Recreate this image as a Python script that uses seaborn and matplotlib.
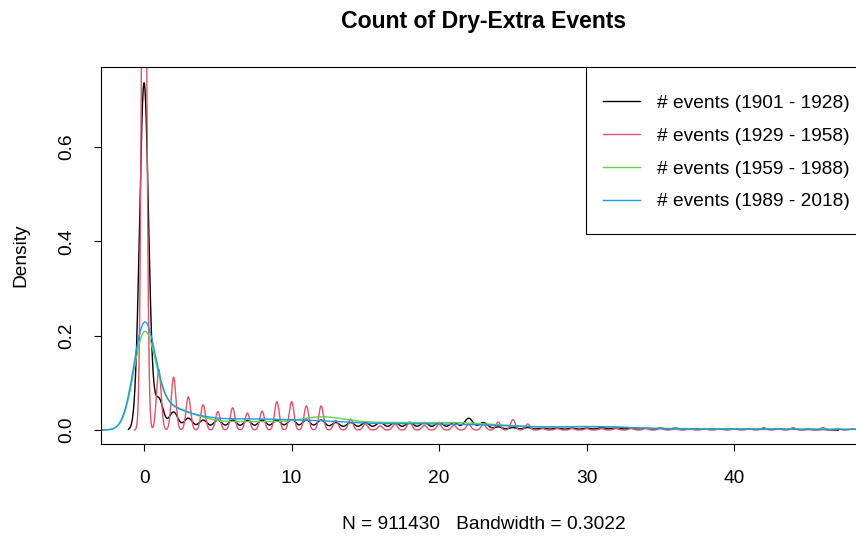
import numpy as np
import pandas as pd
import seaborn as sns
import matplotlib.pyplot as plt
from matplotlib.patches import Rectangle

# share of cells with k dry-extra events (index = k), one list per period
share_1901_1928 = [0.56, 0.05, 0.029, 0.019, 0.016, 0.016, 0.016, 0.015, 0.016, 0.016,
                   0.017, 0.016, 0.016, 0.012, 0.012, 0.012, 0.012, 0.012, 0.012, 0.012,
                   0.012, 0.012, 0.019, 0.012, 0.005, 0.004, 0.004, 0.003, 0.003, 0.003,
                   0.003, 0.004, 0.004, 0.003, 0.003, 0.003, 0.003, 0.002, 0.002, 0.002,
                   0.002, 0.002, 0.002, 0.002, 0.002, 0.001, 0.001]
share_1929_1958 = [0.59, 0.05, 0.044, 0.0276, 0.021, 0.0154, 0.0185, 0.0142, 0.0157, 0.0236,
                   0.0236, 0.020, 0.020, 0.008, 0.009, 0.005, 0.0035, 0.005, 0.0067, 0.004,
                   0.005, 0.004, 0.0047, 0.0047, 0.0067, 0.0087, 0.005, 0.0012, 0.0012, 0.0012,
                   0.0012, 0.0012, 0.0012, 0.0012, 0.0012, 0.0012, 0.0012, 0.0012, 0.0012, 0.0012,
                   0.0012, 0.0012, 0.002, 0.0012, 0.002, 0.0012, 0.002, 0.0012, 0.0012, 0.0012,
                   0.0012]
share_1959_1988 = [0.375, 0.06, 0.055, 0.04, 0.028, 0.02, 0.019, 0.019, 0.019, 0.019,
                   0.02, 0.027, 0.032, 0.028, 0.022, 0.018, 0.017, 0.017, 0.017, 0.017,
                   0.017, 0.017, 0.016, 0.014, 0.012, 0.010, 0.008, 0.007, 0.007, 0.008,
                   0.008, 0.008, 0.007, 0.005, 0.004, 0.004, 0.003, 0.003, 0.003, 0.003,
                   0.002, 0.002, 0.002, 0.002, 0.002, 0.002, 0.002, 0.002, 0.002, 0.002,
                   0.002, 0.001, 0.001, 0.001, 0.001, 0.001]
share_1989_2018 = [0.43, 0.06, 0.055, 0.04, 0.032, 0.027, 0.026, 0.026, 0.026, 0.025,
                   0.024, 0.023, 0.022, 0.02, 0.018, 0.016, 0.015, 0.015, 0.015, 0.015,
                   0.014, 0.014, 0.013, 0.012, 0.011, 0.009, 0.008, 0.007, 0.007, 0.008,
                   0.008, 0.008, 0.007, 0.006, 0.004, 0.003, 0.003, 0.003, 0.002, 0.002,
                   0.002, 0.0015, 0.0015, 0.0015, 0.0015, 0.0015, 0.0015, 0.0015, 0.0015, 0.0015,
                   0.0015, 0.001, 0.001, 0.001, 0.001, 0.001]

labels = ["# events (1901 - 1928)", "# events (1929 - 1958)",
          "# events (1959 - 1988)", "# events (1989 - 2018)"]
shares = [share_1901_1928, share_1929_1958, share_1959_1988, share_1989_2018]
bandwidths = [0.3022, 0.157, 0.72, 0.72]
colors = ["black", "#DF536B", "#61D04F", "#2297E6"]

plt.rcParams["font.family"] = ["Liberation Sans", "DejaVu Sans"]
fs = 13.8

fig = plt.figure(figsize=(8.56, 5.39), dpi=100)
ax = fig.add_axes([101 / 856, 1 - 444 / 539, 766 / 856, 377 / 539])

for share, bw, col, lab in zip(shares, bandwidths, colors, labels):
    df = pd.DataFrame({"events": np.arange(len(share)), "share": share})
    # seaborn wants a factor of the weighted std, R gives an absolute bandwidth
    sd = np.sqrt(np.cov(df["events"], aweights=df["share"]))
    sns.kdeplot(data=df, x="events", weights="share", bw_method=bw / sd, cut=3,
                gridsize=3000, color=col, linewidth=1.0, label=lab, ax=ax)

ax.set_xlim(-2.92, 49.0)
ax.set_ylim(-0.0296, 0.77)
ax.set_xticks([0, 10, 20, 30, 40])
ax.set_yticks([0, 0.2, 0.4, 0.6])
ax.set_yticklabels(["0.0", "0.2", "0.4", "0.6"], rotation=90, va="center")
ax.tick_params(direction="out", length=5, width=0.8, labelsize=fs, pad=13.5)
for s in ax.spines.values():
    s.set_linewidth(0.8)

ax.set_title("Count of Dry-Extra Events", fontsize=fs * 1.2, fontweight="bold", pad=28)
ax.set_xlabel("N = 911430   Bandwidth = 0.3022", fontsize=fs, labelpad=21)
ax.set_ylabel("Density", fontsize=fs, labelpad=21)

# R's legend box has more room above/below than at the sides, so the frame is drawn by hand
ax_h = 377
leg = ax.legend(loc="upper right", bbox_to_anchor=(1, 1 - 10 / ax_h), fontsize=fs,
                frameon=False, borderaxespad=0, borderpad=0.9,
                handlelength=1.9, handletextpad=0.9, labelspacing=0.81)
fig.canvas.draw()
bb = leg.get_window_extent().transformed(ax.transAxes.inverted())
y0 = bb.y0 - 6 / ax_h
ax.add_patch(Rectangle((bb.x0, y0), 1 - bb.x0, 1 - y0, transform=ax.transAxes,
                       facecolor="white", edgecolor="black", linewidth=0.8, zorder=4))

fig.savefig("out.png", dpi=100)
